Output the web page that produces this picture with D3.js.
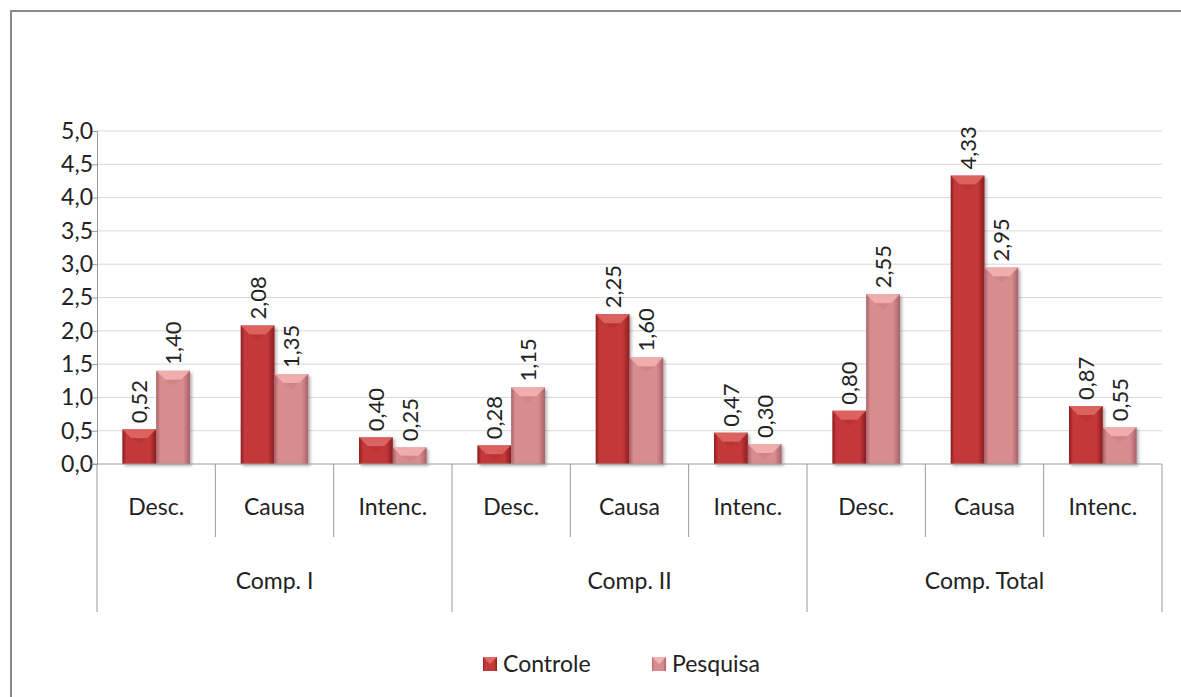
<!DOCTYPE html>
<html>
<head>
<meta charset="utf-8">
<script src="https://cdn.jsdelivr.net/npm/d3@7"></script>
<style>
  body { margin: 0; background: #fff; }
  text { font-family: Lato, "Noto Sans", sans-serif; fill: #222; }
</style>
</head>
<body>
<div id="chart"></div>
<script>
// data
var groups = ["Comp. I", "Comp. II", "Comp. Total"]
var subs = ["Desc.", "Causa", "Intenc."]
var series = ["Controle", "Pesquisa"]
var controle = [0.52, 2.08, 0.40, 0.28, 2.25, 0.47, 0.80, 4.33, 0.87]
var pesquisa = [1.40, 1.35, 0.25, 1.15, 1.60, 0.30, 2.55, 2.95, 0.55]
var yTicks = [0, 0.5, 1, 1.5, 2, 2.5, 3, 3.5, 4, 4.5, 5]

var W = 1181, H = 697
var plot = {left: 97, right: 1162, top: 131, bottom: 464}

var svg = d3.select("#chart").append("svg")
    .attr("width", W)
    .attr("height", H)

// outer frame (only left and top visible)
svg.append("path")
  .attr("d", "M11,697 L11,11 L1181,11")
  .attr("fill", "none")
  .attr("stroke", "#8a8a8a")
  .attr("stroke-width", 2)

var defs = svg.append("defs")
var pal = {
  Controle: {edge: "#8c1c1e", mid: "#c4393a", bev: "#e06a68", bevDark: "#a52a2b"},
  Pesquisa: {edge: "#a8606a", mid: "#d98c8d", bev: "#f2b3b2", bevDark: "#c07577"}
}
series.forEach(function(s) {
  var g = defs.append("linearGradient").attr("id", "g" + s)
    .attr("x1", 0).attr("x2", 1).attr("y1", 0).attr("y2", 0)
  g.append("stop").attr("offset", "0%").attr("stop-color", pal[s].edge)
  g.append("stop").attr("offset", "12%").attr("stop-color", pal[s].mid)
  g.append("stop").attr("offset", "80%").attr("stop-color", pal[s].mid)
  g.append("stop").attr("offset", "100%").attr("stop-color", pal[s].edge)
})
var f = defs.append("filter").attr("id", "shadow")
  .attr("x", "-20%").attr("y", "-20%").attr("width", "150%").attr("height", "150%")
f.append("feDropShadow").attr("dx", 2).attr("dy", 2).attr("stdDeviation", 1.5)
  .attr("flood-color", "#000").attr("flood-opacity", 0.3)

var cats = d3.range(groups.length * subs.length)
var x = d3.scaleBand().domain(cats).range([plot.left, plot.right])
var xs = d3.scaleBand().domain(series).range([0, x.bandwidth()]).paddingInner(0).paddingOuter(0.75)
var y = d3.scaleLinear().domain([0, 5]).range([plot.bottom, plot.top])

// gridlines
svg.append("g").selectAll("line")
  .data(yTicks.slice(1))
  .enter().append("line")
  .attr("x1", plot.left).attr("x2", plot.right)
  .attr("y1", function(d) { return y(d) }).attr("y2", function(d) { return y(d) })
  .attr("stroke", "#d9d9d9").attr("stroke-width", 1)

// y axis
var yAxis = svg.append("g")
  .attr("transform", "translate(" + plot.left + ",0)")
  .call(d3.axisLeft(y).tickValues(yTicks).tickSize(6)
    .tickFormat(function(d) { return d.toFixed(1).replace(".", ",") }))
yAxis.select(".domain").attr("stroke", "#9a9a9a")
yAxis.selectAll(".tick line").attr("stroke", "#9a9a9a")
yAxis.selectAll("text").style("font-size", "23px").attr("x", -4).attr("fill", "#222")

// bars
var rows = []
cats.forEach(function(i) {
  rows.push({cat: i, s: "Controle", v: controle[i]})
  rows.push({cat: i, s: "Pesquisa", v: pesquisa[i]})
})

var bars = svg.append("g").selectAll("g")
  .data(rows)
  .enter().append("g")
  .attr("filter", "url(#shadow)")

bars.append("rect")
  .attr("x", function(d) { return x(d.cat) + xs(d.s) })
  .attr("y", function(d) { return y(d.v) })
  .attr("width", xs.bandwidth())
  .attr("height", function(d) { return y(0) - y(d.v) })
  .attr("fill", function(d) { return "url(#g" + d.s + ")" })

// bevel on top of each bar
bars.append("path")
  .attr("d", function(d) {
    var x0 = x(d.cat) + xs(d.s), w = xs.bandwidth(), t = y(d.v)
    var b = Math.min(9, (y(0) - t) / 2)
    return "M" + x0 + "," + t + " L" + (x0 + w) + "," + t +
      " L" + (x0 + w - b) + "," + (t + b) + " L" + (x0 + b) + "," + (t + b) + "Z"
  })
  .attr("fill", function(d) { return pal[d.s].bev })
  .attr("opacity", 0.85)
bars.append("path")
  .attr("d", function(d) {
    var x0 = x(d.cat) + xs(d.s), w = xs.bandwidth(), t = y(d.v)
    var b = Math.min(9, (y(0) - t) / 2)
    return "M" + (x0 + b) + "," + (t + b) + " L" + (x0 + w - b) + "," + (t + b) +
      " L" + (x0 + w / 2) + "," + (t + b + 6)
  })
  .attr("fill", function(d) { return pal[d.s].bevDark })
  .attr("opacity", 0.35)

// value labels, rotated
svg.append("g").selectAll("text")
  .data(rows)
  .enter().append("text")
  .attr("transform", function(d) {
    var cx = x(d.cat) + xs(d.s) + xs.bandwidth() / 2
    return "translate(" + (cx + 8) + "," + (y(d.v) - 6) + ") rotate(-90)"
  })
  .attr("text-anchor", "start")
  .style("font-size", "22px")
  .text(function(d) { return d.v.toFixed(2).replace(".", ",") })

// x axis line
svg.append("line")
  .attr("x1", plot.left - 6).attr("x2", plot.right)
  .attr("y1", plot.bottom).attr("y2", plot.bottom)
  .attr("stroke", "#9a9a9a")

// category separators
var axisG = svg.append("g")
d3.range(cats.length + 1).forEach(function(i) {
  var xx = i < cats.length ? x(i) : plot.right
  var long = i % subs.length === 0
  axisG.append("line")
    .attr("x1", xx).attr("x2", xx)
    .attr("y1", plot.bottom).attr("y2", long ? 612 : 537)
    .attr("stroke", "#9a9a9a")
})

axisG.selectAll(".sub")
  .data(cats)
  .enter().append("text")
  .attr("x", function(d) { return x(d) + x.bandwidth() / 2 })
  .attr("y", 515)
  .attr("text-anchor", "middle")
  .style("font-size", "23px")
  .text(function(d) { return subs[d % subs.length] })

axisG.selectAll(".grp")
  .data(groups)
  .enter().append("text")
  .attr("x", function(d, i) { return x(i * 3) + x.bandwidth() * 1.5 })
  .attr("y", 589)
  .attr("text-anchor", "middle")
  .style("font-size", "23px")
  .text(function(d) { return d })

// legend
var legX = [483, 652]
var leg = svg.append("g").selectAll("g")
  .data(series)
  .enter().append("g")
  .attr("transform", function(d, i) { return "translate(" + legX[i] + ",657)" })
leg.append("rect")
  .attr("width", 14).attr("height", 14)
  .attr("fill", function(d) { return "url(#g" + d + ")" })
leg.append("path")
  .attr("d", "M0,0 L14,0 L7,7Z")
  .attr("fill", function(d) { return pal[d].bev })
leg.append("text")
  .attr("x", 20).attr("y", 15)
  .style("font-size", "23px")
  .text(function(d) { return d })
</script>
</body>
</html>
